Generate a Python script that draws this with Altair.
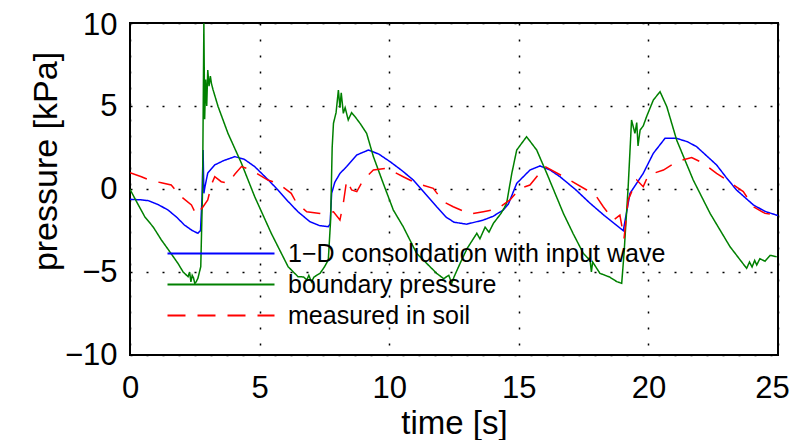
import altair as alt
import pandas as pd

series_names = ["1\u2212D consolidation with input wave", "boundary pressure", "measured in soil"]
series_colors = ["#0000ff", "#008000", "#ff0000"]
series_dashes = [[1, 0], [1, 0], [18, 12]]

x_ticks = [0, 5, 10, 15, 20, 25]
y_ticks = [-10, -5, 0, 5, 10]

blue_t = [0, 0.4, 0.7, 1.1, 1.47, 1.8, 2.1, 2.4, 2.62, 2.72, 2.78, 2.82, 2.85, 2.9, 3.0, 3.27, 3.6,
          4.04, 4.4, 4.81, 5.3, 5.71, 6.1, 6.48, 6.94, 7.3, 7.65, 7.72, 7.78, 7.9, 8.1, 8.36, 8.75,
          9.2, 9.6, 10.03, 10.5, 10.93, 11.4, 11.83, 12.2, 12.5, 12.99, 13.63, 14.0, 14.4, 14.6,
          14.92, 15.43, 15.82, 16.2, 16.59, 17.2, 17.75, 18.3, 18.7, 19.03, 19.29, 19.8, 20.19,
          20.64, 21.09, 21.5, 21.86, 22.63, 23.0, 23.4, 24.05, 24.5, 25.0]
blue_p = [-0.62, -0.65, -0.7, -0.95, -1.27, -1.7, -2.17, -2.5, -2.67, -2.5, -0.5, 2.35, -0.26, 0.2,
          0.96, 1.45, 1.7, 1.95, 1.8, 1.35, 0.6, -0.06, -0.75, -1.37, -1.97, -2.2, -2.27, -2.1,
          -0.26, 0.4, 0.94, 1.35, 2.05, 2.35, 2.1, 1.65, 1.1, 0.54, -0.3, -1.07, -1.7, -2.0, -2.12,
          -1.87, -1.65, -1.27, -0.9, 0.34, 1.14, 1.39, 1.15, 0.74, -0.05, -0.86, -1.6, -2.1, -2.51,
          -0.26, 0.94, 2.15, 3.05, 3.05, 2.85, 2.55, 1.45, 0.7, -0.06, -0.96, -1.35, -1.6]

green_t = [0, 0.3, 0.57, 0.9, 1.21, 1.5, 1.85, 2.05, 2.24, 2.3, 2.35, 2.4, 2.45, 2.5, 2.55, 2.62,
           2.73, 2.8, 2.85, 2.88, 2.92, 2.96, 3.0, 3.05, 3.1, 3.14, 3.2, 3.4, 3.78, 4.3, 4.81, 5.45,
           6.1, 6.48, 6.7, 6.82, 6.9, 7.0, 7.1, 7.33, 7.5, 7.65, 7.74, 7.8, 7.85, 7.95, 8.04, 8.1,
           8.15, 8.23, 8.3, 8.42, 8.55, 8.68, 8.9, 9.13, 9.39, 9.77, 10.16, 10.54, 11.06, 11.83,
           12.1, 12.3, 12.41, 12.5, 12.73, 13.0, 13.38, 13.5, 13.7, 13.85, 14.02, 14.2, 14.3, 14.45,
           14.53, 14.73, 14.92, 15.3, 15.69, 16.08, 16.72, 17.1, 17.49, 17.75, 17.8, 17.85, 18.13,
           18.5, 18.78, 18.97, 19.06, 19.22, 19.35, 19.48, 19.55, 19.6, 19.68, 19.8, 19.93, 20.19,
           20.45, 20.71, 21.09, 21.73, 22.38, 23.15, 23.79, 23.9, 24.0, 24.1, 24.18, 24.3, 24.5,
           24.7, 24.95]
green_p = [-0.02, -0.9, -1.67, -2.3, -3.07, -3.7, -4.48, -5.0, -5.28, -5.0, -5.6, -5.2, -5.35,
           -5.7, -5.6, -5.38, -4.68, 0.0, 9.98, 4.2, 6.6, 5.0, 7.17, 6.2, 6.8, 6.37, 6.0, 4.96,
           3.35, 1.55, -0.46, -2.67, -4.68, -5.28, -5.3, -5.48, -5.2, -5.6, -5.3, -5.08, -4.7,
           -4.28, -1.87, 2.5, 3.96, 4.6, 5.96, 4.9, 5.8, 4.56, 4.9, 4.16, 4.6, 4.36, 3.9, 3.35,
           1.95, 0.34, -1.27, -2.27, -3.88, -5.08, -5.4, -5.2, -5.68, -5.3, -4.5, -3.6, -2.67,
           -3.0, -2.3, -2.6, -2.07, -1.7, -1.5, -1.1, -0.86, 0.94, 2.35, 3.15, 2.35, 0.94, -1.47,
           -2.7, -3.88, -4.3, -5.0, -4.4, -5.08, -5.3, -5.58, -5.68, -3.88, 0.14, 4.16, 3.35, 4.0,
           2.6, 3.55, 3.8, 4.36, 5.36, 5.86, 4.96, 2.95, 0.54, -1.47, -3.48, -4.78, -4.4, -4.7,
           -4.3, -4.58, -4.2, -4.35, -4.0, -4.08]

red_t = [0, 0.44, 0.8, 1.21, 1.59, 1.98, 2.37, 2.56, 2.7, 2.82, 3.0, 3.15, 3.27, 3.52, 3.78, 4.05,
         4.3, 4.68, 5.32, 5.71, 6.22, 6.43, 6.82, 7.33, 7.85, 8.1, 8.23, 8.36, 8.55, 8.75, 9.0,
         9.39, 9.9, 10.54, 11.06, 11.7, 12.09, 12.47, 13.12, 13.63, 14.15, 14.66, 15.05, 15.43,
         15.69, 16.01, 16.85, 17.62, 18.0, 18.26, 18.65, 18.9, 19.06, 19.22, 19.55, 19.8, 20.0,
         20.58, 21.09, 21.67, 22.12, 22.63, 23.02, 23.66, 24.05, 24.5, 24.95]
red_p = [0.98, 0.74, 0.5, 0.38, 0.24, -0.46, -0.96, -1.57, -1.3, -1.07, -0.66, 0.3, 0.74, 0.44,
         0.34, 0.9, 1.35, 1.14, 0.54, 0.34, -0.26, -0.86, -1.37, -1.47, -1.37, -1.87, -0.86, 0.54,
         -0.06, -0.16, 0.54, 1.14, 1.25, 0.74, 0.34, 0.04, -0.76, -1.07, -1.51, -1.37, -1.22,
         -0.66, 0.04, 0.24, 0.74, 1.35, 0.64, -0.06, -0.46, -1.07, -1.87, -1.57, -2.97, -0.66,
         0.54, 0.14, 0.84, 1.14, 1.65, 1.9, 1.55, 0.94, 0.54, -0.16, -1.07, -1.47, -1.57]

rows = []
for name, ts, ps in zip(series_names, [blue_t, green_t, red_t], [blue_p, green_p, red_p]):
    for i, (t, p) in enumerate(zip(ts, ps)):
        rows.append({"series": name, "t": t, "p": p, "i": i})
df = pd.DataFrame(rows)

FONT = "Liberation Sans"

legend_kw = dict(
    title=None,
    orient="none",
    legendX=30,
    legendY=218,
    padding=0,
    symbolType="M-1,0H20.4",
    symbolSize=100,
    symbolStrokeWidth=2,
    labelFont=FONT,
    labelFontSize=25,
    labelColor="#000000",
    labelOffset=103,
    rowPadding=5,
    labelLimit=600,
)

chart = alt.Chart(df).mark_line(strokeWidth=1.5, clip=True).encode(
    x=alt.X("t:Q",
            scale=alt.Scale(domain=[0, 25], nice=False, zero=False),
            axis=alt.Axis(values=x_ticks, title="time [s]", labelPadding=18, labelFlush=False,
                          labelOffset={"condition": {"test": "datum.value == 25", "value": -6},
                                       "value": 0},
                          titleX=324, titleY=68, titleBaseline="middle", titleAlign="center",
                          titleFontSize=33)),
    y=alt.Y("p:Q",
            scale=alt.Scale(domain=[-10, 10], nice=False, zero=False),
            axis=alt.Axis(values=y_ticks, title="pressure [kPa]", labelPadding=13, labelFlush=False,
                          labelOffset={"condition": {"test": "datum.value == 10", "value": 2},
                                       "value": 0},
                          titleX=-84, titleY=138, titleAngle=270, titleBaseline="middle",
                          titleAlign="center")),
    color=alt.Color("series:N", scale=alt.Scale(domain=series_names, range=series_colors),
                    legend=alt.Legend(**legend_kw)),
    strokeDash=alt.StrokeDash("series:N", scale=alt.Scale(domain=series_names, range=series_dashes),
                              legend=alt.Legend(**legend_kw)),
    order="i:Q",
).properties(
    width=648,
    height=332,
    padding={"left": 122, "top": 15, "right": 14, "bottom": 85},
    autosize=alt.AutoSizeParams(type="none"),
).configure_view(
    stroke="#000000", strokeWidth=2
).configure_axis(
    domain=False,
    ticks=False,
    grid=True,
    gridColor="#000000",
    gridDash=[2, 14],
    gridWidth=1.5,
    gridOpacity=1,
    labelFont=FONT,
    labelFontSize=31,
    labelColor="#000000",
    titleFont=FONT,
    titleFontSize=34,
    titleFontWeight="normal",
    titleColor="#000000",
)

chart.save("out.html", embed_options={"renderer": "svg", "actions": False})
